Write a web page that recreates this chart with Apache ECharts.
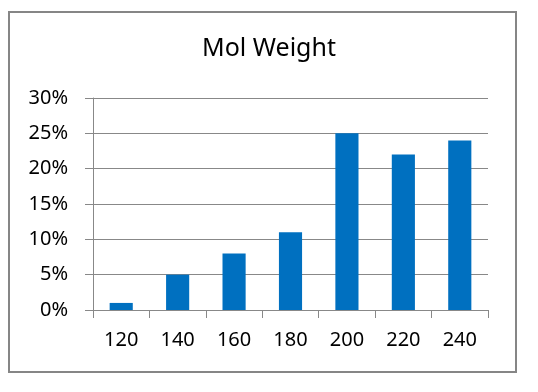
<!DOCTYPE html>
<html><head><meta charset="utf-8">
<script src="https://cdn.jsdelivr.net/npm/echarts@6/dist/echarts.min.js"></script>
<style>html,body{margin:0;padding:0;background:#fff}#c{width:538px;height:392px}</style>
</head><body><div id="c"></div>
<script>
const categories = ['120','140','160','180','200','220','240'];
const values = [1, 5, 8, 11, 25, 22, 24];
const yTicks = [0, 5, 10, 15, 20, 25, 30];
const title = 'Mol Weight';
const font = 'Noto Sans, Liberation Sans, sans-serif';
const chart = echarts.init(document.getElementById('c'));
chart.setOption({
  animation: false,
  title: { text: title, left: 'center', top: 31, textStyle: { fontFamily: font, fontSize: 25, fontWeight: 'normal', color: '#000' } },
  graphic: [{ type: 'rect', shape: { x: 9, y: 12, width: 507, height: 360 }, style: { fill: 'none', stroke: '#868686', lineWidth: 2 }, silent: true }],
  grid: { left: 93, right: 50, top: 98, bottom: 82 },
  xAxis: {
    type: 'category', data: categories,
    axisLine: { lineStyle: { color: '#888', width: 1 } },
    axisTick: { show: true, alignWithLabel: false, length: 8, lineStyle: { color: '#888' } },
    axisLabel: { fontFamily: font, fontSize: 20, color: '#000', margin: 20 }
  },
  yAxis: {
    type: 'value', min: 0, max: 30, interval: 5,
    axisLine: { show: true, lineStyle: { color: '#888', width: 1 } },
    axisTick: { show: true, length: 8, lineStyle: { color: '#888' } },
    splitLine: { lineStyle: { color: '#888', width: 1 } },
    axisLabel: { fontFamily: font, fontSize: 20, color: '#000', margin: 25, formatter: v => yTicks.includes(v) ? v + '%' : '' }
  },
  series: [{ type: 'bar', data: values, barWidth: '41%', itemStyle: { color: '#0070C0' } }]
});
</script></body></html>
